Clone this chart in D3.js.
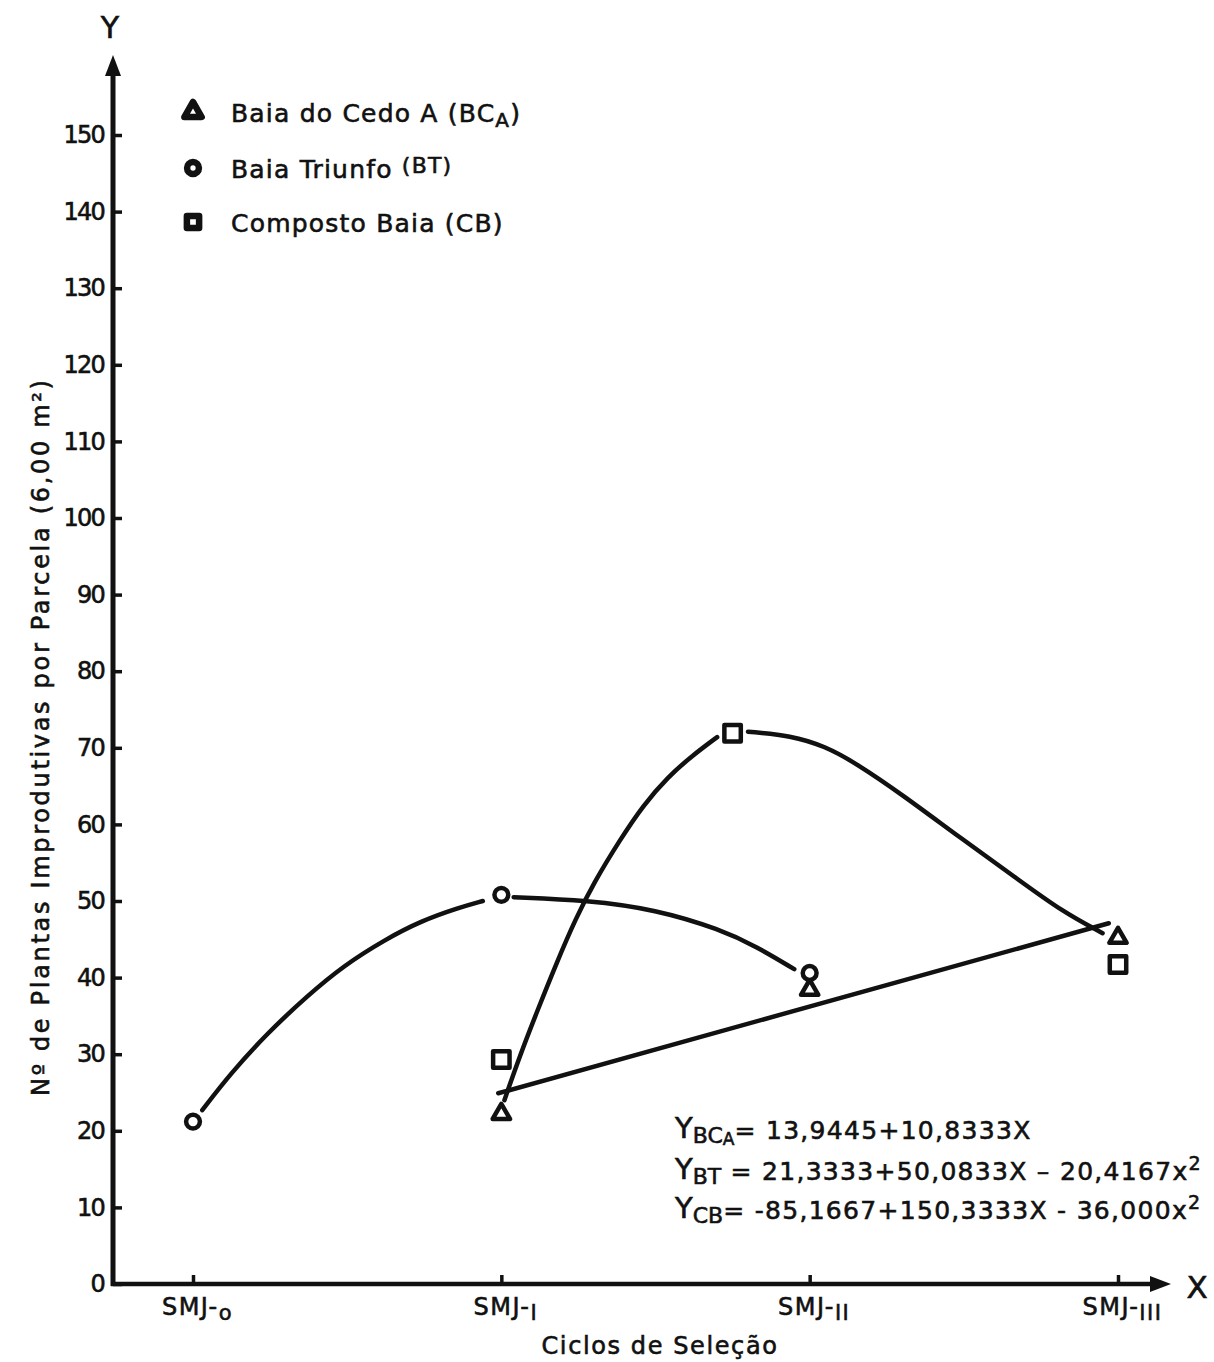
<!DOCTYPE html>
<html>
<head>
<meta charset="utf-8">
<script src="https://cdn.jsdelivr.net/npm/d3@7"></script>
<style>
  body { margin: 0; background: #fff; }
  svg { display: block; font-family: "DejaVu Sans", sans-serif; }
  svg text { stroke: #111; stroke-width: 0.6px; }
</style>
</head>
<body>
<svg width="1214" height="1362"></svg>
<script>
// Cycles of selection, coded 0..3 on the x axis
const cycles = [0, 1, 2, 3];
const cycleSuffix = ['o', 'I', 'II', 'III'];
const yTicks = [0, 10, 20, 30, 40, 50, 60, 70, 80, 90, 100, 110, 120, 130, 140, 150];

const bcaX = [1, 2, 3];
const bcaY = [22.2, 38.4, 45.2];
const btX = [0, 1, 2];
const btY = [21.2, 50.8, 40.6];
const cbX = [1, 1.75, 3];
const cbY = [29.3, 71.9, 41.7];

// Hand drawn regression curves
const bcaFit = [[0.99, 24.9], [2.97, 47.1]];
const btFitLeft = [[0.03, 22.7], [0.12, 27.4], [0.24, 32.7], [0.37, 37.6], [0.49, 41.6],
  [0.62, 44.9], [0.74, 47.4], [0.86, 49.1], [0.94, 50.0]];
const btFitRight = [[1.04, 50.5], [1.28, 50.1], [1.50, 48.9], [1.71, 46.3], [1.83, 44.0], [1.95, 41.1]];
const cbFitLeft = [[1.01, 24.0], [1.06, 29.8], [1.12, 36.0], [1.18, 42.0], [1.24, 47.6], [1.30, 52.4],
  [1.385, 58.0], [1.46, 62.5], [1.54, 66.2], [1.62, 69.0], [1.70, 71.4]];
const cbFitRight = [[1.80, 72.1], [1.94, 71.6], [2.05, 70.2], [2.15, 68.0], [2.30, 63.9],
  [2.49, 58.2], [2.67, 53.0], [2.82, 48.6], [2.95, 45.8]];

(function (d3) {
  'use strict';

  const svg = d3.select('svg');
  const axisX = 113;
  const axisY = 1284;
  const ink = '#111';

  const x = d3.scaleLinear().domain([0, 3]).range([193, 1118]);
  const y = d3.scaleLinear().domain([0, 150]).range([axisY, 135]);

  setupAxes();
  drawCurves();
  drawMarkers();
  drawLegend();
  drawEquations();

  function marker(shape) {
    if (shape === 'triangle') return d3.symbol(d3.symbolTriangle, 130)();
    if (shape === 'square') return d3.symbol(d3.symbolSquare, 270)();
    return d3.symbol(d3.symbolCircle, 150)();
  }

  function setupAxes() {
    // y axis with inward ticks
    const gy = svg.append('g')
      .attr('class', 'axis axis-y')
      .attr('transform', 'translate(' + axisX + ',0)')
      .call(d3.axisLeft(y).tickValues(yTicks).tickSizeInner(-9).tickSizeOuter(0).tickPadding(9));
    gy.select('.domain').remove();
    gy.selectAll('line').attr('stroke', ink).attr('stroke-width', 3.5);
    gy.selectAll('text')
      .attr('font-family', '"DejaVu Sans", sans-serif')
      .attr('font-size', 24)
      .attr('letter-spacing', -1.8)
      .attr('fill', ink);

    // x axis
    const gx = svg.append('g')
      .attr('class', 'axis axis-x')
      .attr('transform', 'translate(0,' + axisY + ')')
      .call(d3.axisBottom(x).tickValues(cycles).tickSizeInner(-9).tickSizeOuter(0).tickPadding(14));
    gx.select('.domain').remove();
    gx.selectAll('line').attr('stroke', ink).attr('stroke-width', 3.5);
    gx.selectAll('text')
      .attr('font-family', '"DejaVu Sans", sans-serif')
      .attr('font-size', 24)
      .attr('letter-spacing', 1.5)
      .attr('fill', ink)
      .attr('x', 4)
      .text(null)
      .each(function (d, i) {
        const t = d3.select(this);
        t.append('tspan').text('SMJ-');
        t.append('tspan').attr('dy', 5).attr('font-size', 21).text(cycleSuffix[i]);
      });

    // axis lines with arrow heads
    svg.append('line').attr('x1', axisX).attr('y1', axisY + 2).attr('x2', axisX).attr('y2', 66)
      .attr('stroke', ink).attr('stroke-width', 5);
    svg.append('path').attr('d', 'M' + axisX + ',55 L' + (axisX - 8) + ',76 L' + (axisX + 8) + ',76 Z')
      .attr('fill', ink);
    svg.append('line').attr('x1', axisX - 2).attr('y1', axisY).attr('x2', 1160).attr('y2', axisY)
      .attr('stroke', ink).attr('stroke-width', 4.5);
    svg.append('path').attr('d', 'M1171,' + axisY + ' L1150,' + (axisY - 8) + ' L1150,' + (axisY + 8) + ' Z')
      .attr('fill', ink);

    svg.append('text').attr('x', 110).attr('y', 38).attr('text-anchor', 'middle')
      .attr('font-size', 30).attr('fill', ink).text('Y');
    svg.append('text').attr('x', 1197).attr('y', 1298).attr('text-anchor', 'middle')
      .attr('font-size', 31).attr('fill', ink).text('X');

    // axis titles
    svg.append('text')
      .attr('transform', 'translate(49,738) rotate(-90)')
      .attr('text-anchor', 'middle')
      .attr('font-size', 24)
      .attr('fill', ink)
      .attr('textLength', 716)
      .attr('lengthAdjust', 'spacing')
      .text('Nº de Plantas Improdutivas por Parcela  (6,00 m²)');

    svg.append('text')
      .attr('x', 660).attr('y', 1354)
      .attr('text-anchor', 'middle')
      .attr('font-size', 24)
      .attr('letter-spacing', 1.6)
      .attr('fill', ink)
      .text('Ciclos de Seleção');
  }

  function drawCurves() {
    const line = d3.line()
      .x(d => x(d[0]))
      .y(d => y(d[1]))
      .curve(d3.curveBasis);
    const curves = [bcaFit, btFitLeft, btFitRight, cbFitLeft, cbFitRight];
    svg.append('g').attr('class', 'curves')
      .selectAll('path')
      .data(curves)
      .enter()
      .append('path')
        .attr('d', line)
        .attr('fill', 'none')
        .attr('stroke', ink)
        .attr('stroke-width', 4.5)
        .attr('stroke-linecap', 'round');
  }

  function drawMarkers() {
    const series = [
      { xs: bcaX, ys: bcaY, shape: 'triangle' },
      { xs: btX, ys: btY, shape: 'circle' },
      { xs: cbX, ys: cbY, shape: 'square' }
    ];
    series.forEach(s => {
      svg.append('g').attr('class', 'markers')
        .selectAll('path')
        .data(s.xs.map((v, i) => [v, s.ys[i]]))
        .enter()
        .append('path')
          .attr('d', marker(s.shape))
          .attr('transform', d => 'translate(' + x(d[0]) + ',' + y(d[1]) + ')')
          .attr('fill', '#fff')
          .attr('stroke', ink)
          .attr('stroke-width', 4.5)
          .attr('stroke-linejoin', 'round');
    });
  }

  function drawLegend() {
    const items = [
      { shape: 'triangle', y: 112, main: 'Baia do Cedo A (BC', sub: 'A', tail: ')' },
      { shape: 'circle', y: 168, main: 'Baia Triunfo ', sup: '(BT)' },
      { shape: 'square', y: 222, main: 'Composto Baia (CB)' }
    ];
    const legend = svg.append('g').attr('class', 'legend');
    items.forEach(it => {
      legend.append('path')
        .attr('d', it.shape === 'triangle' ? d3.symbol(d3.symbolTriangle, 130)()
          : it.shape === 'square' ? d3.symbol(d3.symbolSquare, 150)() : d3.symbol(d3.symbolCircle, 110)())
        .attr('transform', 'translate(193,' + it.y + ')')
        .attr('fill', '#fff')
        .attr('stroke', ink)
        .attr('stroke-width', 6.5)
        .attr('stroke-linejoin', 'round');
      const t = legend.append('text')
        .attr('x', 231).attr('y', it.y + 10)
        .attr('font-size', 25)
        .attr('letter-spacing', 1.2)
        .attr('fill', ink);
      t.append('tspan').text(it.main);
      if (it.sub) {
        t.append('tspan').attr('dy', 5).attr('font-size', 20).text(it.sub);
        t.append('tspan').attr('dy', -5).text(it.tail);
      }
      if (it.sup) {
        t.append('tspan').attr('dy', -5).attr('font-size', 22).text(it.sup);
      }
    });
  }

  function drawEquations() {
    const eqs = [
      { y: 1139, sub: 'BC', sub2: 'A', body: '= 13,9445+10,8333X', sq: false },
      { y: 1180, sub: 'BT', body: '  = 21,3333+50,0833X – 20,4167x', sq: true },
      { y: 1219, sub: 'CB', body: '= -85,1667+150,3333X - 36,000x', sq: true }
    ];
    const g = svg.append('g').attr('class', 'equations');
    eqs.forEach(e => {
      const t = g.append('text')
        .attr('x', 675).attr('y', e.y)
        .attr('font-size', 25)
        .attr('fill', ink);
      t.append('tspan').attr('font-size', 29).attr('dy', -1).text('Y');
      t.append('tspan').attr('font-size', 22).attr('dy', 5).text(e.sub);
      if (e.sub2) t.append('tspan').attr('font-size', 17).attr('dy', 2).text(e.sub2);
      t.append('tspan').attr('dy', e.sub2 ? -6 : -4).attr('letter-spacing', 1.3).text(e.body);
      if (e.sq) t.append('tspan').attr('dy', -10).attr('font-size', 19).text('2');
    });
  }

}(d3));
</script>
</body>
</html>
